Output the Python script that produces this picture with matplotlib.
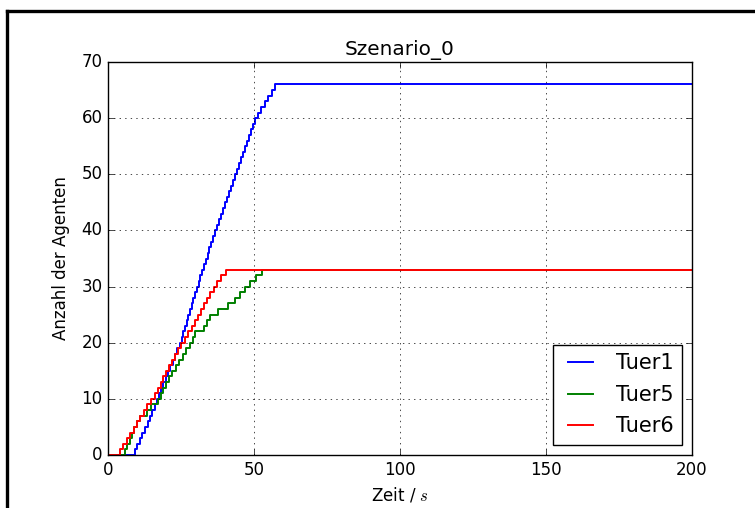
import matplotlib
matplotlib.use("Agg")
import matplotlib.pyplot as plt
from matplotlib.lines import Line2D

# arrival times (s) of each agent per door
tuer1_times = [9.2, 10.0, 10.8, 11.8, 12.8, 13.6, 14.4, 15.2, 16.0, 16.9,
               17.6, 18.3, 19.0, 19.8, 20.6, 21.4, 22.2, 23.0, 23.8, 24.6,
               25.2, 25.8, 26.4, 26.9, 27.5, 28.0, 28.6, 29.2, 29.8, 30.4,
               31.0, 31.6, 32.3, 32.9, 33.5, 34.1, 34.7, 35.3, 36.0, 36.6,
               37.3, 38.0, 38.7, 39.4, 40.1, 40.8, 41.5, 42.1, 42.8, 43.5,
               44.2, 44.9, 45.6, 46.3, 47.0, 47.6, 48.3, 49.0, 49.7, 50.4,
               51.4, 52.5, 53.6, 54.8, 56.0, 57.2]
tuer5_times = [5.8, 6.6, 7.4, 8.2, 9.0, 9.8, 10.8, 13.2, 14.8, 17.0,
               18.0, 19.0, 20.0, 21.0, 22.0, 23.2, 24.4, 25.6, 26.8, 28.2,
               29.0, 29.8, 32.8, 34.0, 35.0, 37.6, 41.0, 43.5, 45.2, 47.0,
               48.8, 50.6, 52.6]
tuer6_times = [4.1, 5.2, 6.4, 7.6, 8.8, 9.8, 11.0, 12.2, 13.4, 14.8,
               16.0, 17.0, 18.0, 19.0, 20.0, 21.0, 22.0, 23.0, 24.0, 25.0,
               26.2, 27.4, 28.6, 29.8, 30.8, 32.0, 33.0, 34.0, 35.0, 36.2,
               37.4, 38.8, 40.4]
labels = ["Tuer1", "Tuer5", "Tuer6"]
t_end = 200

plt.style.use("classic")
plt.rcParams["figure.facecolor"] = "white"
plt.rcParams["savefig.facecolor"] = "white"

fig = plt.figure(figsize=(7.55, 5.08), dpi=100)
ax = fig.add_axes([108 / 755, 53 / 508, 584 / 755, 393 / 508])

for times, col, lab in zip([tuer1_times, tuer5_times, tuer6_times], ["b", "g", "r"], labels):
    x = [0] + times + [t_end]
    y = [0] + list(range(1, len(times) + 1)) + [len(times)]
    ax.step(x, y, where="post", color=col, lw=1.4, label=lab)

ax.set_xlim(0, 200)
ax.set_ylim(0, 70)
ax.grid(True)
ax.set_title("Szenario_0")
ax.set_xlabel("Zeit / $s$")
ax.set_ylabel("Anzahl der Agenten", labelpad=8)
ax.legend(loc="lower right", fontsize=15, labelspacing=0.55, handlelength=1.8)

# outer frame of the screenshot
fig.add_artist(Line2D([7 / 755, 1.0], [1 - 11 / 508] * 2, color="black", lw=2.4))
fig.add_artist(Line2D([7 / 755] * 2, [0.0, 1 - 11 / 508], color="black", lw=2.4))

fig.savefig("out.png", dpi=100)
